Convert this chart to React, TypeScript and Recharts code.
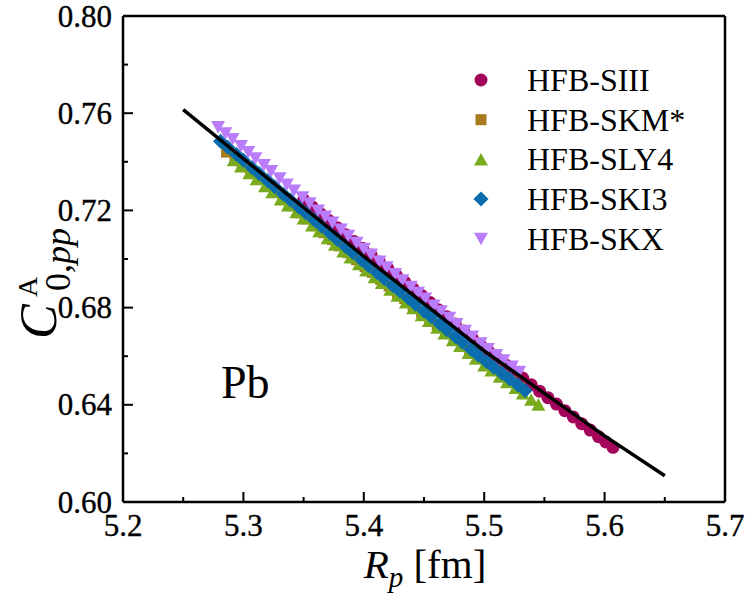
import React from 'react';
import { ScatterChart, Scatter, XAxis, YAxis, ReferenceLine } from 'recharts';

// axis ticks (major + minor)
const xTicks = [5.2, 5.25, 5.3, 5.35, 5.4, 5.45, 5.5, 5.55, 5.6, 5.65, 5.7];
const yTicks = [0.6, 0.62, 0.64, 0.66, 0.68, 0.7, 0.72, 0.74, 0.76, 0.78, 0.8];

// HFB-SIII
const siiiX = [5.350, 5.357, 5.364, 5.371, 5.378, 5.385, 5.392, 5.399, 5.406, 5.413, 5.420, 5.427, 5.434, 5.441, 5.448, 5.455, 5.462, 5.469, 5.476, 5.483, 5.490, 5.497, 5.504, 5.511, 5.518, 5.525, 5.532, 5.539, 5.546, 5.553, 5.560, 5.567, 5.574, 5.581, 5.588, 5.595, 5.601, 5.607];
const siiiY = [0.7243, 0.7215, 0.7186, 0.7158, 0.7129, 0.7100, 0.7072, 0.7044, 0.7016, 0.6988, 0.6961, 0.6933, 0.6905, 0.6877, 0.6850, 0.6821, 0.6791, 0.6762, 0.6733, 0.6704, 0.6674, 0.6645, 0.6617, 0.6590, 0.6563, 0.6536, 0.6510, 0.6483, 0.6456, 0.6429, 0.6403, 0.6376, 0.6350, 0.6322, 0.6296, 0.6269, 0.6247, 0.6225];

// HFB-SKM*
const skmX = [5.286, 5.293, 5.299, 5.306, 5.313, 5.320, 5.326, 5.333, 5.340, 5.347, 5.353, 5.360, 5.367, 5.374, 5.380, 5.387, 5.394, 5.401, 5.407, 5.414, 5.421, 5.428, 5.434, 5.441, 5.448, 5.455, 5.461, 5.468, 5.475, 5.482, 5.488, 5.495, 5.502, 5.509, 5.515, 5.522, 5.529];
const skmY = [0.7440, 0.7411, 0.7387, 0.7358, 0.7330, 0.7301, 0.7276, 0.7247, 0.7219, 0.7190, 0.7165, 0.7137, 0.7108, 0.7080, 0.7054, 0.7026, 0.6997, 0.6969, 0.6945, 0.6916, 0.6889, 0.6861, 0.6837, 0.6809, 0.6782, 0.6754, 0.6730, 0.6702, 0.6674, 0.6647, 0.6623, 0.6595, 0.6568, 0.6543, 0.6521, 0.6497, 0.6471];

// HFB-SLY4
const sly4X = [5.292, 5.298, 5.305, 5.311, 5.318, 5.324, 5.331, 5.337, 5.344, 5.350, 5.357, 5.363, 5.370, 5.376, 5.383, 5.389, 5.396, 5.402, 5.409, 5.415, 5.422, 5.428, 5.435, 5.441, 5.448, 5.454, 5.461, 5.467, 5.474, 5.480, 5.487, 5.493, 5.500, 5.506, 5.513, 5.519, 5.526, 5.532, 5.539, 5.545];
const sly4Y = [0.7406, 0.7381, 0.7353, 0.7328, 0.7299, 0.7275, 0.7245, 0.7220, 0.7192, 0.7167, 0.7138, 0.7114, 0.7085, 0.7059, 0.7031, 0.7006, 0.6978, 0.6953, 0.6925, 0.6901, 0.6873, 0.6849, 0.6821, 0.6797, 0.6769, 0.6745, 0.6717, 0.6693, 0.6666, 0.6642, 0.6613, 0.6590, 0.6562, 0.6541, 0.6515, 0.6493, 0.6469, 0.6447, 0.6421, 0.6400];

// HFB-SKI3
const ski3X = [5.281, 5.287, 5.294, 5.300, 5.307, 5.313, 5.320, 5.326, 5.333, 5.339, 5.346, 5.352, 5.359, 5.365, 5.372, 5.378, 5.385, 5.391, 5.398, 5.404, 5.411, 5.417, 5.424, 5.430, 5.437, 5.443, 5.450, 5.456, 5.463, 5.469, 5.476, 5.482, 5.489, 5.495, 5.502, 5.508, 5.515, 5.521, 5.528, 5.534];
const ski3Y = [0.7485, 0.7460, 0.7431, 0.7406, 0.7377, 0.7352, 0.7323, 0.7297, 0.7268, 0.7243, 0.7214, 0.7189, 0.7160, 0.7135, 0.7106, 0.7080, 0.7051, 0.7026, 0.6997, 0.6972, 0.6944, 0.6920, 0.6891, 0.6867, 0.6839, 0.6814, 0.6786, 0.6762, 0.6734, 0.6709, 0.6681, 0.6657, 0.6629, 0.6604, 0.6577, 0.6555, 0.6529, 0.6507, 0.6481, 0.6459];

// HFB-SKX
const skxX = [5.279, 5.285, 5.291, 5.298, 5.304, 5.310, 5.317, 5.323, 5.330, 5.336, 5.342, 5.349, 5.355, 5.362, 5.368, 5.374, 5.381, 5.387, 5.394, 5.400, 5.406, 5.413, 5.419, 5.426, 5.432, 5.439, 5.445, 5.451, 5.458, 5.464, 5.471, 5.477, 5.484, 5.490, 5.497, 5.503, 5.510, 5.516, 5.523, 5.529];
const skxY = [0.7543, 0.7518, 0.7494, 0.7465, 0.7440, 0.7415, 0.7387, 0.7362, 0.7332, 0.7307, 0.7282, 0.7254, 0.7229, 0.7200, 0.7175, 0.7150, 0.7121, 0.7096, 0.7067, 0.7042, 0.7019, 0.6990, 0.6966, 0.6938, 0.6913, 0.6886, 0.6861, 0.6837, 0.6809, 0.6785, 0.6758, 0.6733, 0.6705, 0.6681, 0.6653, 0.6630, 0.6605, 0.6583, 0.6558, 0.6536];

// fitted curve
const fitX = [5.25, 5.30, 5.35, 5.40, 5.45, 5.50, 5.55, 5.60, 5.65];
const fitY = [0.7615, 0.7413, 0.7212, 0.7011, 0.6816, 0.6622, 0.6447, 0.6272, 0.6108];

const FONT = '"Liberation Serif", "Times New Roman", serif';

const pts = (xs: number[], ys: number[]) => xs.map((x, i) => ({ x, y: ys[i] }));

const drawMarker = (kind: string, cx: number, cy: number, color: string) => {
  switch (kind) {
    case 'circle':
      return <circle cx={cx} cy={cy} r={6.5} fill={color} />;
    case 'square':
      return <rect x={cx - 5.5} y={cy - 5.5} width={11} height={11} fill={color} />;
    case 'up':
      return <polygon points={`${cx - 7},${cy + 6} ${cx + 7},${cy + 6} ${cx},${cy - 6.5}`} fill={color} />;
    case 'diamond':
      return <polygon points={`${cx},${cy - 7.5} ${cx + 7.5},${cy} ${cx},${cy + 7.5} ${cx - 7.5},${cy}`} fill={color} />;
    default:
      return <polygon points={`${cx - 7},${cy - 6} ${cx + 7},${cy - 6} ${cx},${cy + 6.5}`} fill={color} />;
  }
};

const series = [
  { name: 'HFB-SIII', data: pts(siiiX, siiiY), color: '#a3055b', kind: 'circle' },
  { name: 'HFB-SKM*', data: pts(skmX, skmY), color: '#a77b1d', kind: 'square' },
  { name: 'HFB-SLY4', data: pts(sly4X, sly4Y), color: '#7aab1e', kind: 'up' },
  { name: 'HFB-SKI3', data: pts(ski3X, ski3Y), color: '#0b6dae', kind: 'diamond' },
  { name: 'HFB-SKX', data: pts(skxX, skxY), color: '#b97cfb', kind: 'down' },
];

const GAP = 10;
const labelProps = { fontFamily: FONT, fontSize: 31, fill: '#000', stroke: '#000', strokeWidth: 0.35 };

const XTick = (props: any) => {
  const { x, y, payload } = props;
  const v = payload.value as number;
  const major = Math.abs(v * 10 - Math.round(v * 10)) < 1e-6;
  const y0 = y - GAP;
  return (
    <g>
      <line x1={x} x2={x} y1={y0} y2={y0 - (major ? 10 : 5)} stroke="#000" strokeWidth={2} />
      {major && (
        <text x={x} y={y0 + 34} textAnchor="middle" {...labelProps}>
          {v.toFixed(1)}
        </text>
      )}
    </g>
  );
};

const YTick = (props: any) => {
  const { x, y, payload } = props;
  const v = payload.value as number;
  const major = Math.abs(v / 0.04 - Math.round(v / 0.04)) < 1e-6;
  const x0 = x + GAP;
  return (
    <g>
      <line x1={x0} x2={x0 + (major ? 10 : 5)} y1={y} y2={y} stroke="#000" strokeWidth={2} />
      {major && (
        <text x={x0 - 11} y={y} dy="0.34em" textAnchor="end" {...labelProps}>
          {v.toFixed(2)}
        </text>
      )}
    </g>
  );
};

export default function App() {
  return (
    <div style={{ position: 'absolute', left: 0, top: 0, width: 747, height: 594, background: '#fff', fontFamily: FONT }}>
      <ScatterChart width={747} height={594} margin={{ top: 16, right: 22, bottom: 32, left: 43 }} style={{ fontFamily: FONT }}>
        <XAxis
          type="number"
          dataKey="x"
          domain={[5.2, 5.7]}
          ticks={xTicks}
          interval={0}
          tickSize={0}
          tickMargin={GAP}
          tickLine={false}
          tick={<XTick />}
          height={60}
          axisLine={{ stroke: '#000', strokeWidth: 2.5 }}
          allowDataOverflow
        />
        <YAxis
          type="number"
          dataKey="y"
          domain={[0.6, 0.8]}
          ticks={yTicks}
          interval={0}
          tickSize={0}
          tickMargin={GAP}
          tickLine={false}
          tick={<YTick />}
          width={80}
          axisLine={{ stroke: '#000', strokeWidth: 2.5 }}
          allowDataOverflow
        />
        <ReferenceLine y={0.8} stroke="#000" strokeWidth={2.5} />
        <ReferenceLine x={5.7} stroke="#000" strokeWidth={2.5} />
        {series.map((s) => (
          <Scatter
            key={s.name}
            name={s.name}
            data={s.data}
            isAnimationActive={false}
            shape={(p: any) => drawMarker(s.kind, p.cx, p.cy, s.color)}
          />
        ))}
        <Scatter
          name="fit"
          data={pts(fitX, fitY)}
          isAnimationActive={false}
          line={{ stroke: '#000', strokeWidth: 3.5 }}
          lineType="joint"
          shape={() => <g />}
        />
      </ScatterChart>
      <svg
        width={747}
        height={594}
        style={{ position: 'absolute', left: 0, top: 0, pointerEvents: 'none', fontFamily: FONT }}
      >
        {/* legend */}
        {series.map((s, i) => (
          <g key={s.name}>
            {drawMarker(s.kind, 481, 80 + i * 39.7, s.color)}
            <text x={527} y={80 + i * 39.7 + 11} fontSize={32} fill="#000">
              {s.name}
            </text>
          </g>
        ))}
        {/* Pb */}
        <text x={221} y={398} fontSize={46} fill="#000">Pb</text>
        {/* x title */}
        <text x={425} y={578} textAnchor="middle" fontSize={41} fill="#000">
          <tspan fontStyle="italic">R</tspan>
          <tspan fontStyle="italic" fontSize={29} dy={9}>p</tspan>
          <tspan dy={-9}> [fm]</tspan>
        </text>
        {/* y title */}
        <g transform="translate(56,339) rotate(-90)">
          <text x={0} y={0} fontSize={52} fontStyle="italic" fill="#000">C</text>
          <text x={42} y={-19} fontSize={28} fill="#000">A</text>
          <text x={48} y={14} fontSize={36} fill="#000">
            0,<tspan fontStyle="italic">pp</tspan>
          </text>
        </g>
      </svg>
    </div>
  );
}
